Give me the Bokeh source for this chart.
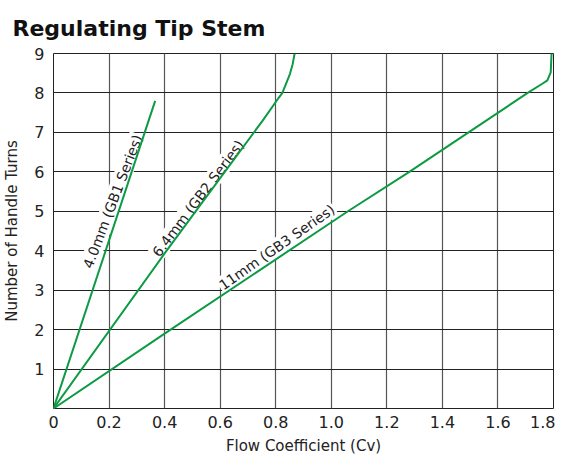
from bokeh.plotting import figure
from bokeh.models import Range1d, FixedTicker, Label
from bokeh.embed import file_html
from bokeh.resources import INLINE

# Data
gb1_x = [0.0, 0.366]
gb1_y = [0.0, 7.8]

gb2_x = [0.0, 0.402, 0.753, 0.812, 0.824, 0.851, 0.861, 0.868]
gb2_y = [0.0, 3.95, 7.30, 7.89, 8.0, 8.48, 8.73, 9.0]

gb3_x = [0.0, 0.4, 1.06, 1.281, 1.707, 1.761, 1.778, 1.79, 1.793]
gb3_y = [0.0, 1.9, 5.0, 6.0, 8.0, 8.24, 8.32, 8.52, 9.0]

x_ticks = [0, 0.2, 0.4, 0.6, 0.8, 1.0, 1.2, 1.4, 1.6, 1.8]
x_tick_labels = ["0", "0.2", "0.4", "0.6", "0.8", "1.0", "1.2", "1.4", "1.6", "1.8"]
y_ticks = [0, 1, 2, 3, 4, 5, 6, 7, 8, 9]
y_tick_labels = ["", "1", "2", "3", "4", "5", "6", "7", "8", "9"]

series_labels = ["4.0mm (GB1 Series)", "6.4mm (GB2 Series)", "11mm (GB3 Series)"]
label_x = [0.213, 0.521, 0.804]
label_y = [5.25, 5.33, 4.09]
label_angle = [69, 53, 35]

FONT = "DejaVu Sans"
GREEN = "#0d9a44"

p = figure(width=555, height=457, output_backend="svg", toolbar_location=None,
           x_range=Range1d(0, 1.8), y_range=Range1d(0, 9),
           min_border_left=47, min_border_right=2, min_border_top=53, min_border_bottom=43)

p.title.text = "Regulating Tip Stem"
p.title.text_font = FONT
p.title.text_font_size = "22px"
p.title.text_font_style = "bold"
p.title.text_color = "#111111"
p.title.offset = -41
p.title.standoff = 22
p.title.vertical_align = "top"

p.outline_line_color = "#222222"
p.outline_line_width = 1
p.background_fill_color = "white"

p.xaxis.ticker = FixedTicker(ticks=x_ticks)
p.yaxis.ticker = FixedTicker(ticks=y_ticks)
p.xaxis.major_label_overrides = {t: l for t, l in zip(x_ticks, x_tick_labels)}
p.yaxis.major_label_overrides = {t: l for t, l in zip(y_ticks, y_tick_labels)}

for ax in (p.xaxis, p.yaxis):
    ax.axis_line_color = None
    ax.major_tick_line_color = None
    ax.minor_tick_line_color = None
    ax.major_label_text_font = FONT
    ax.major_label_text_font_size = "16px"
    ax.major_label_text_color = "#222222"
    ax.axis_label_text_font = FONT
    ax.axis_label_text_font_size = "15px"
    ax.axis_label_text_font_style = "normal"
    ax.axis_label_text_color = "#222222"

p.xaxis.axis_label = "Flow Coefficient (Cv)"
p.yaxis.axis_label = "Number of Handle Turns"
p.xaxis.major_label_standoff = 1
p.xaxis.axis_label_standoff = 6
p.yaxis.major_label_standoff = 3
p.yaxis.axis_label_standoff = 10

p.xgrid.grid_line_color = "#555555"
p.xgrid.grid_line_width = 1.2
p.ygrid.grid_line_color = "#222222"
p.ygrid.grid_line_width = 1

for t, lx, ly, a in zip(series_labels, label_x, label_y, label_angle):
    p.add_layout(Label(x=lx, y=ly, text=t, angle=a, angle_units="deg",
                       text_align="center", text_baseline="middle",
                       text_font=FONT, text_font_size="14px", text_color="#222222",
                       background_fill_color="white", padding=1, level="underlay"))

p.line(gb1_x, gb1_y, line_color=GREEN, line_width=2)
p.line(gb2_x, gb2_y, line_color=GREEN, line_width=2)
p.line(gb3_x, gb3_y, line_color=GREEN, line_width=2)

open("out.html", "w").write(file_html(p, INLINE))
